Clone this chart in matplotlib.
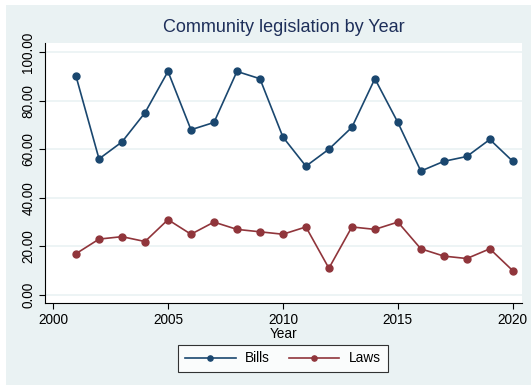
import matplotlib.pyplot as plt
from matplotlib.patches import Rectangle
from matplotlib.ticker import FormatStrFormatter

plt.rcParams['font.family'] = ['Liberation Sans', 'DejaVu Sans']

years = list(range(2001, 2021))
bills = [90, 56, 63, 75, 92, 68, 71, 92, 89, 65, 53, 60, 69, 89, 71, 51, 55, 57, 64, 55]
laws = [17, 23, 24, 22, 31, 25, 30, 27, 26, 25, 28, 11, 28, 27, 30, 19, 16, 15, 19, 10]

# Stata s2color palette
bg_color = '#EAF2F3'
navy = '#1A476F'
maroon = '#90353B'
title_color = '#1E2F5A'

fig = plt.figure(figsize=(5.31, 3.85), dpi=100)
fig.patch.set_facecolor('white')
fig.patches.append(Rectangle((6 / 531, 0), 1, 1 - 5 / 385, transform=fig.transFigure,
                             facecolor=bg_color, edgecolor='none', zorder=-10))

ax = fig.add_axes([45 / 531, 82 / 385, 477 / 531, 260 / 385])
ax.set_facecolor('white')

ax.plot(years, bills, '-o', color=navy, lw=1.2, ms=5, label='Bills', zorder=3)
ax.plot(years, laws, '-o', color=maroon, lw=1.2, ms=5, label='Laws', zorder=3)

ax.set_xlim(1999.65, 2020.4)
ax.set_ylim(-3.3, 103.7)
ax.set_xticks([2000, 2005, 2010, 2015, 2020])
ax.set_yticks([0, 20, 40, 60, 80, 100])
ax.yaxis.set_major_formatter(FormatStrFormatter('%.2f'))
for lbl in ax.get_yticklabels():
    lbl.set_rotation(90)
    lbl.set_va('center')
ax.tick_params(axis='both', direction='out', length=4, width=0.8, color='black',
               labelsize=9.8, pad=3)
ax.grid(axis='y', color=bg_color, lw=1.2, zorder=0)

for side in ['top', 'right']:
    ax.spines[side].set_visible(False)
for side in ['left', 'bottom']:
    ax.spines[side].set_color('black')
    ax.spines[side].set_linewidth(0.8)

ax.set_xlabel('Year', fontsize=9.8, labelpad=0)
ax.set_title('Community legislation by Year', fontsize=13, color=title_color, pad=8)

leg = fig.legend(loc='center', bbox_to_anchor=(283 / 531, 1 - 358.5 / 385), ncol=2,
                 fontsize=9.8, handlelength=3.7, numpoints=1, markerscale=0.75,
                 frameon=True, fancybox=False, edgecolor='black', columnspacing=1.4,
                 borderpad=0.5, handletextpad=0.7, borderaxespad=0)
leg.get_frame().set_linewidth(0.8)

fig.savefig('out.png', dpi=100, facecolor=fig.get_facecolor())
